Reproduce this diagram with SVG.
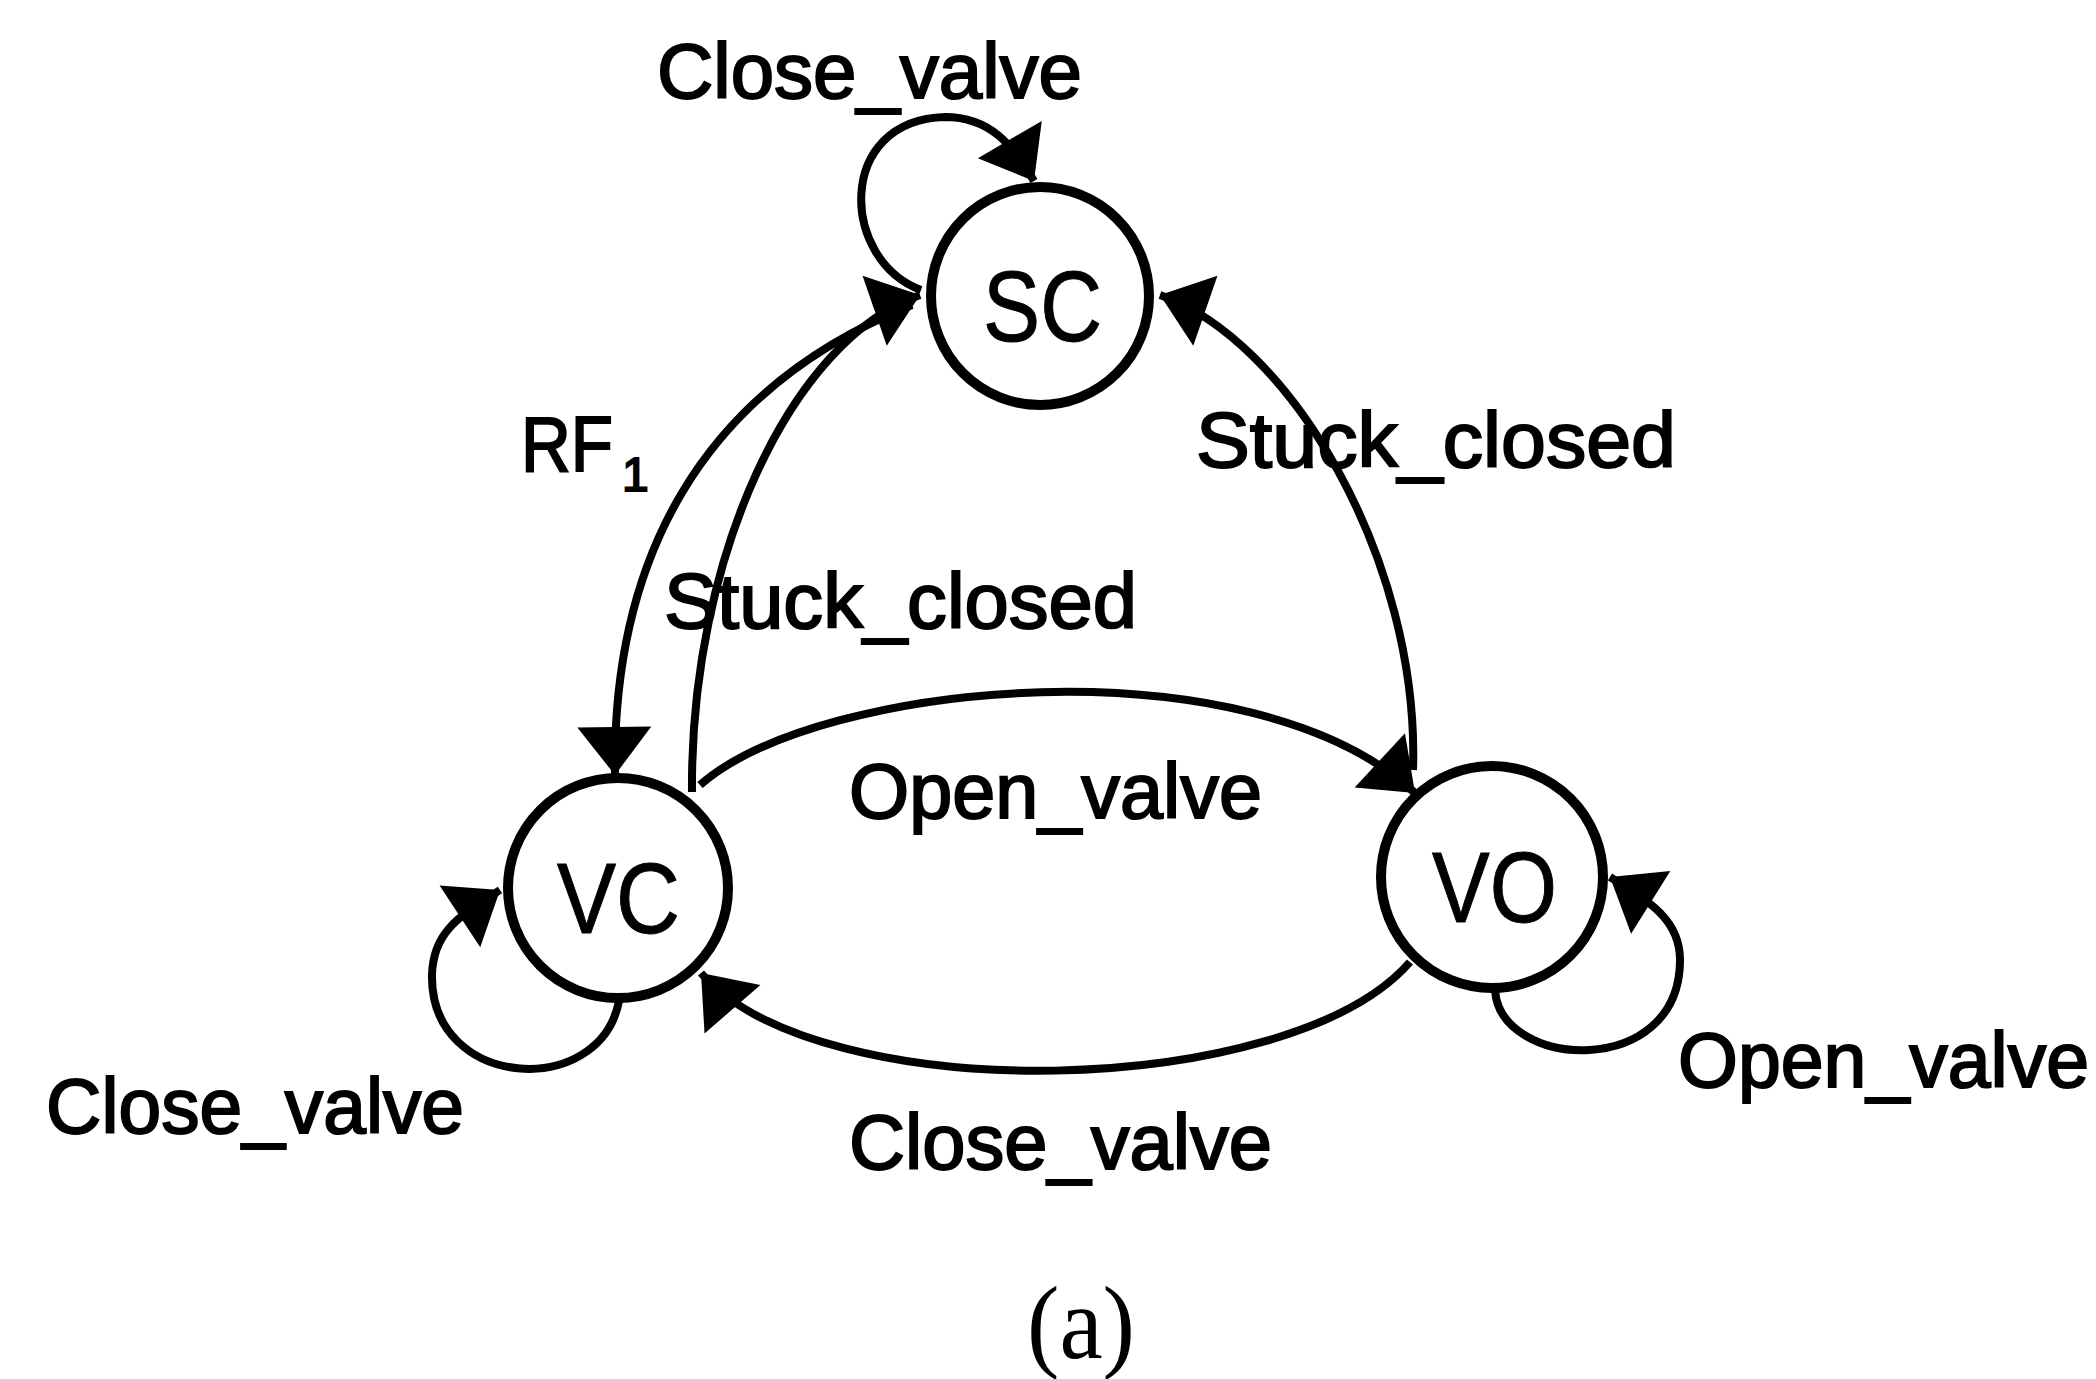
<svg xmlns="http://www.w3.org/2000/svg" width="2096" height="1379" viewBox="0 0 2096 1379">
<style>
.node{fill:#fff;stroke:#000;stroke-width:10}
.nt{font-family:"Liberation Sans",Arial,sans-serif;font-size:101px;fill:#000;stroke:#000;stroke-width:1}
.lbl{font-family:"Liberation Sans",Arial,sans-serif;font-size:77px;fill:#000;stroke:#000;stroke-width:2}
.edge{fill:none;stroke:#000;stroke-width:8;marker-end:url(#ah)}
.cap{font-family:"Liberation Serif","Times New Roman",serif;font-size:104px;fill:#000}
</style>
<defs>
<marker id="ah" markerUnits="userSpaceOnUse" viewBox="-50 -40 52 80" markerWidth="52" markerHeight="80" refX="0" refY="0" orient="auto">
<path d="M0,0 L-48,-37 L-48,37 Z" fill="#000"/>
</marker>
</defs>
<rect width="2096" height="1379" fill="#fff"/>
<g id="connectors">
<path class="edge" d="M921 290 C840 260 835 120 945 117 C990 117 1013 145 1034 181"/>
<path class="edge" d="M912 305 C700 390 612 560 615 775"/>
<path class="edge" d="M692 792 C690 560 790 340 920 295"/>
<path class="edge" d="M1413 770 C1420 560 1290 340 1160 295"/>
<path class="edge" d="M700 785 C820 680 1250 640 1415 793"/>
<path class="edge" d="M1410 962 C1290 1100 820 1110 701 973"/>
<path class="edge" d="M619 1001 C600 1100 430 1090 432 975 C433 930 462 915 500 890"/>
<path class="edge" d="M1495 990 C1500 1070 1680 1080 1680 960 C1680 920 1650 902 1610 877"/>
</g>
<g id="node-SC">
<circle class="node" cx="1040" cy="296" r="109"/>
<text class="nt" x="983" y="341" textLength="119" lengthAdjust="spacingAndGlyphs">SC</text>
</g>
<g id="node-VC">
<circle class="node" cx="618" cy="888" r="110"/>
<text class="nt" x="557" y="933" textLength="123" lengthAdjust="spacingAndGlyphs">VC</text>
</g>
<g id="node-VO">
<circle class="node" cx="1492" cy="877" r="111"/>
<text class="nt" x="1432" y="922" textLength="125" lengthAdjust="spacingAndGlyphs">VO</text>
</g>
<g id="labels">
<text class="lbl" x="657" y="98" textLength="425" lengthAdjust="spacingAndGlyphs">Close_valve</text>
<text class="lbl" x="521" y="471" textLength="92" lengthAdjust="spacingAndGlyphs">RF</text>
<text class="lbl" x="622" y="491" style="font-size:48px">1</text>
<text class="lbl" x="664" y="628" textLength="473" lengthAdjust="spacingAndGlyphs">Stuck_closed</text>
<text class="lbl" x="1196" y="467" textLength="480" lengthAdjust="spacingAndGlyphs">Stuck_closed</text>
<text class="lbl" x="849" y="818" textLength="413" lengthAdjust="spacingAndGlyphs">Open_valve</text>
<text class="lbl" x="849" y="1169" textLength="423" lengthAdjust="spacingAndGlyphs">Close_valve</text>
<text class="lbl" x="46" y="1133" textLength="418" lengthAdjust="spacingAndGlyphs">Close_valve</text>
<text class="lbl" x="1678" y="1087" textLength="411" lengthAdjust="spacingAndGlyphs">Open_valve</text>
<text class="cap" x="1027" y="1358" textLength="108" lengthAdjust="spacingAndGlyphs">(a)</text>
</g>
</svg>
